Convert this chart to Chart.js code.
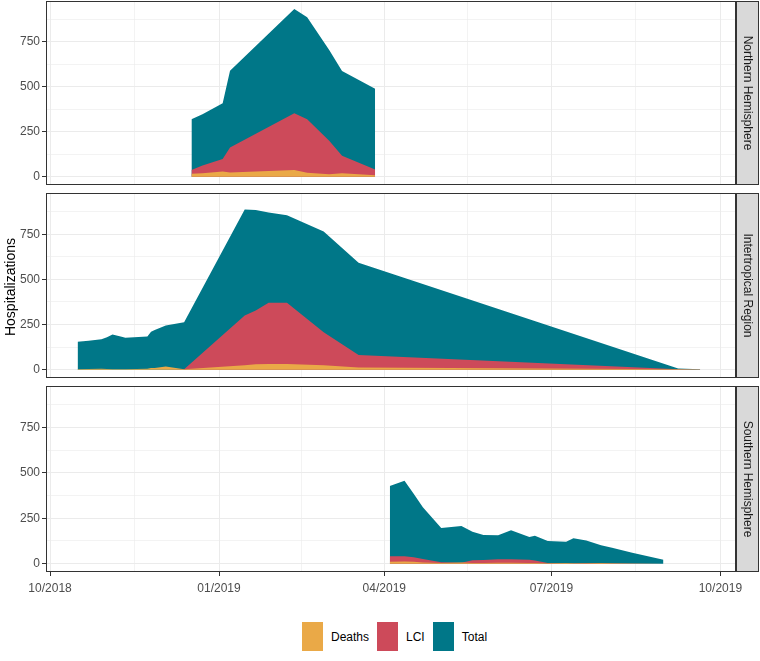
<!DOCTYPE html>
<html>
<head>
<meta charset="utf-8">
<script src="https://cdn.jsdelivr.net/npm/chart.js@4/dist/chart.umd.min.js"></script>
<style>
  body { margin: 0; background: #fff; font-family: "Liberation Sans", Arial, sans-serif; }
  #wrap { position: relative; width: 760px; height: 661px; overflow: hidden; }
  canvas { position: absolute; left: 0; }
  #ytitle { position: absolute; left: -90px; top: 279px; width: 200px; text-align: center;
            font-size: 14px; color: #000; transform: rotate(-90deg); }
  #legend { position: absolute; left: 302px; top: 622px; display: flex; align-items: center;
            font-size: 12px; color: #000; }
  #legend .key { width: 21px; height: 29px; margin-right: 8px; }
  #legend .lab { margin-right: 8px; }
</style>
</head>
<body>
<div id="wrap">
  <canvas id="north" width="760" height="186" style="top:0px"></canvas>
  <canvas id="inter" width="760" height="187" style="top:192px"></canvas>
  <canvas id="south" width="760" height="217" style="top:385px"></canvas>
  <div id="ytitle">Hospitalizations</div>
  <div id="legend"></div>
</div>
<script>
// colours of the three series
const COLORS = { Deaths: "#eaa947", LCI: "#cd4a5a", Total: "#007788" };
const SERIES = ["Deaths", "LCI", "Total"];

// Northern Hemisphere
const northDates  = ["2018-12-17", "2018-12-23", "2019-01-03", "2019-01-07", "2019-02-11",
                     "2019-02-18", "2019-03-02", "2019-03-09", "2019-03-27"];
const northDeaths = [16, 20, 29, 24, 38, 22, 14, 19, 8];
const northLCI    = [38, 63, 99, 163, 354, 320, 200, 117, 40];
const northTotal  = [320, 348, 409, 590, 933, 887, 705, 589, 489];

// Intertropical Region
const interDates  = ["2018-10-16", "2018-10-22", "2018-10-29", "2018-11-01", "2018-11-04",
                     "2018-11-09", "2018-11-11", "2018-11-23", "2018-11-25", "2018-11-27",
                     "2018-12-03", "2018-12-13", "2019-01-15", "2019-01-21", "2019-01-28",
                     "2019-02-07", "2019-02-27", "2019-03-18", "2019-09-08", "2019-09-20"];
const interDeaths = [3, 4, 5, 4, 3, 3, 3, 5, 10, 9, 17, 3, 24, 30, 32, 32, 24, 12, 2, 1];
const interLCI    = [0, 0, 0, 0, 0, 0, 0, 0, 0, 0, 0, 3, 300, 327, 370, 370, 207, 82, 3, 1];
const interTotal  = [154, 160, 169, 179, 195, 182, 177, 184, 210, 219,
                     244, 262, 886, 884, 870, 855, 765, 592, 7, 2];

// Southern Hemisphere
const southDates  = ["2019-04-04", "2019-04-12", "2019-04-17", "2019-04-22", "2019-05-02",
                     "2019-05-13", "2019-05-19", "2019-05-25", "2019-06-02", "2019-06-09",
                     "2019-06-19", "2019-06-22", "2019-06-29", "2019-07-09", "2019-07-13",
                     "2019-07-20", "2019-07-28", "2019-08-03", "2019-08-14", "2019-08-31"];
const southDeaths = [10, 12, 10, 6, 3, 6, 3, 3, 5, 5, 4, 3, 2, 3, 2, 2, 3, 2, 1, 0];
const southLCI    = [41, 41, 35, 26, 8, 5, 19, 20, 24, 24, 22, 18, 3, 2, 2, 3, 3, 2, 1, 0];
const southTotal  = [428, 456, 385, 311, 196, 207, 175, 158, 156, 184,
                     147, 153, 125, 121, 140, 127, 101, 88, 60, 22];

// axis breaks
const xMajorDates = ["2018-10-01", "2019-01-01", "2019-04-01", "2019-07-01", "2019-10-01"];
const yMajor = [0, 250, 500, 750];
const yMinor = [125, 375, 625, 875];

const DAY = 86400000;
const FONT = "'Liberation Sans', Arial, sans-serif";
function toMs(s) {
  const [y, m, d] = s.split("-").map(Number);
  return Date.UTC(y, m - 1, d);
}
function fmtMonth(v) {
  const dt = new Date(v);
  return String(dt.getUTCMonth() + 1).padStart(2, "0") + "/" + dt.getUTCFullYear();
}

const xMajor = xMajorDates.map(toMs);
const xMinor = xMajor.slice(1).map((v, i) => (v + xMajor[i]) / 2);
const xTicks = xMajor.map(v => ({ value: v, minor: false }))
  .concat(xMinor.map(v => ({ value: v, minor: true })))
  .sort((a, b) => a.value - b.value);
const yTicks = yMajor.map(v => ({ value: v, minor: false }))
  .concat(yMinor.map(v => ({ value: v, minor: true })))
  .sort((a, b) => a.value - b.value);
const xMajorSet = new Set(xMajor);

const X_MIN = toMs("2018-10-01") - 2.2 * DAY;
const X_MAX = toMs("2019-10-01") + 8.5 * DAY;

function stripPlugin(label) {
  return {
    id: "panelFrame",
    afterDraw(chart) {
      const { ctx, chartArea: a } = chart;
      ctx.save();
      ctx.strokeStyle = "#333333";
      ctx.lineWidth = 1;
      ctx.strokeRect(a.left + 0.5, a.top + 0.5, a.right - a.left - 1, a.bottom - a.top - 1);
      // facet strip on the right
      const sx = a.right, sw = 23;
      ctx.fillStyle = "#d9d9d9";
      ctx.fillRect(sx, a.top, sw, a.bottom - a.top);
      ctx.strokeRect(sx + 0.5, a.top + 0.5, sw - 1, a.bottom - a.top - 1);
      ctx.translate(sx + sw / 2, (a.top + a.bottom) / 2);
      ctx.rotate(Math.PI / 2);
      ctx.fillStyle = "#1a1a1a";
      ctx.font = "12px " + FONT;
      ctx.textAlign = "center";
      ctx.textBaseline = "middle";
      ctx.fillText(label, 0, 0);
      ctx.restore();
    }
  };
}

function makePanel(id, label, dates, deaths, lci, total, showX) {
  const values = { Deaths: deaths, LCI: lci, Total: total };
  const isMinorTick = ctx => ctx.tick && ctx.tick.minor;
  return new Chart(document.getElementById(id), {
    type: "line",
    data: {
      datasets: SERIES.map(name => ({
        label: name,
        data: dates.map((d, i) => ({ x: toMs(d), y: values[name][i] })),
        backgroundColor: COLORS[name],
        borderWidth: 0,
        pointRadius: 0,
        tension: 0,
        fill: "origin"
      }))
    },
    options: {
      responsive: false,
      animation: false,
      devicePixelRatio: 1,
      layout: { autoPadding: false, padding: { top: 1, right: 24, bottom: showX ? 0 : 1, left: 0 } },
      plugins: { legend: { display: false }, tooltip: { enabled: false } },
      scales: {
        x: {
          type: "linear",
          min: X_MIN,
          max: X_MAX,
          afterBuildTicks: s => { s.ticks = xTicks.map(t => ({ ...t })); },
          afterFit: s => {
            s.height = showX ? 30 : 0;
            s.paddingLeft = 0;
            s.paddingRight = 0;
          },
          border: { display: false },
          grid: {
            color: "#ebebeb",
            lineWidth: ctx => (isMinorTick(ctx) ? 0.6 : 1),
            drawTicks: showX,
            tickLength: 4,
            tickColor: ctx => (isMinorTick(ctx) ? "rgba(0,0,0,0)" : "#333333")
          },
          ticks: {
            display: showX,
            autoSkip: false,
            maxRotation: 0,
            padding: 5,
            color: "#4d4d4d",
            font: { size: 12, family: FONT },
            callback: v => (xMajorSet.has(v) ? fmtMonth(v) : "")
          }
        },
        y: {
          min: -46,
          max: 978,
          afterBuildTicks: s => { s.ticks = yTicks.map(t => ({ ...t })); },
          afterFit: s => {
            s.width = 46;
            s.paddingTop = 0;
            s.paddingBottom = 0;
          },
          border: { display: false },
          grid: {
            color: "#ebebeb",
            lineWidth: ctx => (isMinorTick(ctx) ? 0.6 : 1),
            tickLength: 4,
            tickColor: ctx => (isMinorTick(ctx) ? "rgba(0,0,0,0)" : "#333333")
          },
          ticks: {
            padding: 2,
            color: "#4d4d4d",
            font: { size: 12, family: FONT },
            callback: v => (v % 250 === 0 ? String(v) : "")
          }
        }
      }
    },
    plugins: [stripPlugin(label)]
  });
}

makePanel("north", "Northern Hemisphere", northDates, northDeaths, northLCI, northTotal, false);
makePanel("inter", "Intertropical Region", interDates, interDeaths, interLCI, interTotal, false);
makePanel("south", "Southern Hemisphere", southDates, southDeaths, southLCI, southTotal, true);

// legend
const legend = document.getElementById("legend");
SERIES.forEach(name => {
  const key = document.createElement("span");
  key.className = "key";
  key.style.background = COLORS[name];
  const lab = document.createElement("span");
  lab.className = "lab";
  lab.textContent = name;
  legend.appendChild(key);
  legend.appendChild(lab);
});
</script>
</body>
</html>
